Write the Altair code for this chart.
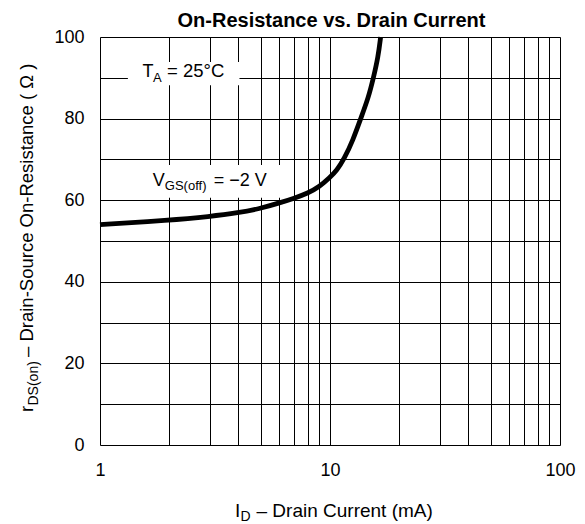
import altair as alt
import pandas as pd

# ---- data ----
current_mA = [1, 2, 3, 4, 5, 6, 7, 8, 9, 10, 10.7, 11.5, 12.6, 13.6, 14.7, 15.45, 16.2, 16.6]
resistance_ohm = [54.0, 55.1, 56.0, 56.9, 58.0, 59.3, 60.5, 61.7, 63.3, 65.6, 67.3, 70.0,
                  74.8, 80.0, 85.2, 90.0, 95.2, 100.0]

x_grid = [1, 2, 3, 4, 5, 6, 7, 8, 9, 10, 20, 30, 40, 50, 60, 70, 80, 90, 100]
y_grid = [0, 10, 20, 30, 40, 50, 60, 70, 80, 90, 100]
x_tick_labels = ["1", "10", "100"]
y_tick_labels = ["0", "20", "40", "60", "80", "100"]

title_text = "On-Resistance vs. Drain Current"

# annotation boxes (white backgrounds) in data units
box_I_lo = [1.322, 1.47]
box_I_hi = [4.04, 6.5]
box_R_lo = [88.2, 60.6]
box_R_hi = [93.9, 68.6]

# annotation anchors (data units) and their pieces
ta_anchor = (1.531, 90.27)
ta_parts = [("T", 18, 0, 0), ("A", 13, 10.5, 5), ("= 25°C", 18.5, 24.5, 0)]
vgs_anchor = (1.697, 63.55)
vgs_parts = [("V", 18, 0, 0), ("GS(off)", 13, 12, 4.5), ("= \u22122 V", 18, 61, 0)]

ytitle_parts = [("r", 18.5, 0, 0), ("DS(on)", 14, 6.5, 4.5),
                ("\u2013 Drain-Source On-Resistance ( \u03a9 )", 18.5, 55, 0)]
xtitle_parts = [("I", 19, 0, 0), ("D", 14, 5.5, 4.5), ("\u2013 Drain Current (mA)", 19, 21.5, 0)]

FONT = "Liberation Sans"

xscale = alt.Scale(type="log", domain=[1, 100])
yscale = alt.Scale(domain=[0, 100])

x_label_expr = "indexof([" + ",".join(x_tick_labels) + "], datum.value) >= 0 ? '' + datum.value : ''"
y_label_expr = "indexof([" + ",".join(y_tick_labels) + "], datum.value) >= 0 ? '' + datum.value : ''"

xaxis = alt.Axis(values=x_grid, grid=True, gridColor="black", gridOpacity=1, gridWidth=1,
                 ticks=False, domain=False, labelExpr=x_label_expr, labelFontSize=18,
                 labelPadding=16, labelColor="black", labelFont=FONT, labelFlush=False,
                 labelOverlap=False, title=None)
yaxis = alt.Axis(values=y_grid, grid=True, gridColor="black", gridOpacity=1, gridWidth=1,
                 ticks=False, domain=False, labelExpr=y_label_expr, labelFontSize=18,
                 labelPadding=16, labelColor="black", labelFont=FONT, labelFlush=False,
                 labelOverlap=False, title=None)

X = alt.X("I:Q", scale=xscale, axis=xaxis)
Y = alt.Y("R:Q", scale=yscale, axis=yaxis)

curve_df = pd.DataFrame({"I": current_mA, "R": resistance_ohm})
box_df = pd.DataFrame({"I": box_I_lo, "I2": box_I_hi, "R": box_R_lo, "R2": box_R_hi})

boxes = alt.Chart(box_df).mark_rect(fill="white", stroke=None).encode(
    x=X, x2="I2:Q", y=Y, y2="R2:Q")

curve = alt.Chart(curve_df).mark_line(color="black", strokeWidth=4.8,
                                      interpolate="basis", strokeCap="butt").encode(x=X, y=Y)

layers = [boxes, curve]


def data_text(anchor, parts):
    out = []
    for txt, size, dx, dy in parts:
        df = pd.DataFrame({"I": [anchor[0]], "R": [anchor[1]], "label": [txt]})
        out.append(alt.Chart(df).mark_text(align="left", baseline="alphabetic", fontSize=size,
                                           font=FONT, color="black", dx=dx, dy=dy)
                   .encode(x=X, y=Y, text="label:N"))
    return out


def pixel_text(px, py, parts, angle=0, bold=False, align="left"):
    out = []
    for txt, size, dx, dy in parts:
        df = pd.DataFrame({"label": [txt]})
        kw = dict(align=align, baseline="alphabetic", fontSize=size, font=FONT,
                  color="black", dx=dx, dy=dy, fontWeight="bold" if bold else "normal")
        if angle:
            kw["angle"] = angle
        out.append(alt.Chart(df).mark_text(**kw)
                   .encode(x=alt.value(px), y=alt.value(py), text="label:N"))
    return out


layers += data_text(ta_anchor, ta_parts)
layers += data_text(vgs_anchor, vgs_parts)
layers += pixel_text(-66.7, 375, ytitle_parts, angle=270)
layers += pixel_text(135, 479.7, xtitle_parts)
layers += pixel_text(231.5, -10.5, [(title_text, 20, 0, 0)], bold=True, align="center")

chart = alt.layer(*layers).properties(
    width=460, height=408,
    autosize=alt.AutoSizeParams(type="none"),
    padding={"left": 92, "top": 29, "right": 16, "bottom": 79},
).configure_view(stroke="black", strokeWidth=1).configure(background="white")

chart.save("out.html", embed_options={"renderer": "svg", "actions": False})
